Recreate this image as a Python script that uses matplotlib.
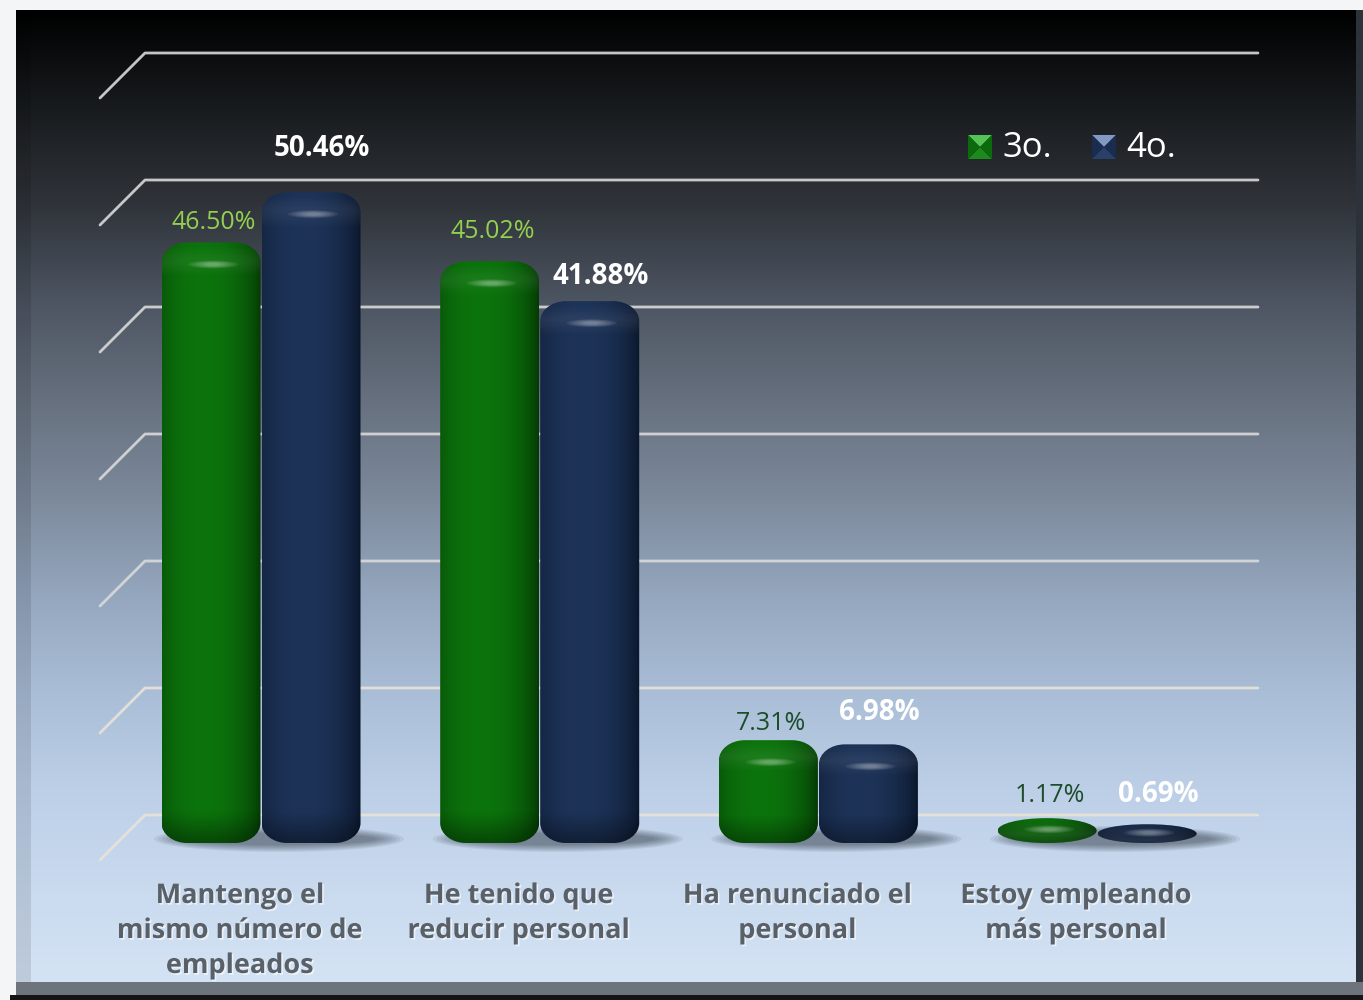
import numpy as np
import matplotlib.pyplot as plt
from matplotlib.path import Path
from matplotlib.patches import PathPatch, Ellipse, Polygon, Rectangle
from matplotlib.colors import to_rgb
from matplotlib.transforms import Affine2D
import matplotlib.patheffects as pe

categories = ['Mantengo el\nmismo número de\nempleados',
              'He tenido que\nreducir personal',
              'Ha renunciado el\npersonal',
              'Estoy empleando\nmás personal']
series_names = ['3o.', '4o.']
values_3o = [46.50, 45.02, 7.31, 1.17]
values_4o = [50.46, 41.88, 6.98, 0.69]
grid_ticks = [0, 10, 20, 30, 40, 50, 60]

# label layout (pixels above the bar top) and colours
gap_3o = [23, 33, 20, 26]
gap_4o = [47, 28, 35, 33]
color_lbl_3o = ['#92d050', '#92d050', '#1d4d2a', '#1d4d2a']

W, H = 1363, 1000
PX_X = 278.7   # pixels per category step
PX_Y = 12.7    # pixels per percentage point
X0 = 261       # pixel x of first category
Y0 = 836       # pixel y of the 0 % floor


def dx(p):
    return (p - X0) / PX_X


def dy(p):
    return (Y0 - p) / PX_Y


fig = plt.figure(figsize=(W / 100, H / 100), dpi=100)
fig.patch.set_facecolor('#f4f5f6')
ax = fig.add_axes([0, 0, 1, 1])
ax.set_xlim(dx(0), dx(W))
ax.set_ylim(dy(H), dy(0))
ax.axis('off')

# background panel with vertical gradient
stops = [(0, '#000000'), (100, '#181b1e'), (200, '#30343a'), (300, '#4d5562'),
         (400, '#66707e'), (500, '#7c899b'), (600, '#94a6bd'), (700, '#a9bdd6'),
         (800, '#bccfe7'), (900, '#c9daef'), (1000, '#d4e3f4')]
rows = np.linspace(0, 1000, 500)
sp = [s[0] for s in stops]
grad = np.zeros((500, 1, 3))
for c in range(3):
    grad[:, 0, c] = np.interp(rows, sp, [to_rgb(s[1])[c] for s in stops])
ax.imshow(grad, extent=[dx(16), dx(1360), dy(982), dy(10)], aspect='auto',
          interpolation='bilinear', zorder=0)
ax.add_patch(Rectangle((dx(16), dy(982)), dx(31) - dx(16), dy(10) - dy(982),
                       facecolor='black', alpha=0.10, lw=0, zorder=0.5))
ax.add_patch(Rectangle((dx(1356), dy(997)), dx(1363) - dx(1356), dy(10) - dy(997),
                       facecolor='#2c3239', lw=0, zorder=0.5))
ax.add_patch(Rectangle((dx(16), dy(995)), dx(1363) - dx(16), dy(982) - dy(995),
                       facecolor='#6e747b', lw=0, zorder=0.5))
ax.add_patch(Rectangle((dx(10), dy(1000)), dx(1363) - dx(10), dy(995) - dy(1000),
                       facecolor='#151515', lw=0, zorder=0.5))

# perspective gridlines (back wall)
depth = 45
for t in grid_ticks:
    yb = t + 21 / PX_Y
    yf = yb - depth / PX_Y
    col = '#d9d9d9' if t >= 20 else '#e9e3d6'
    ax.plot([dx(100), dx(145), dx(1258)], [yf, yb, yb], color=col, lw=2.0,
            alpha=0.9, solid_capstyle='round', zorder=1)


def rounded_rect(x0, x1, y0, y1, rx, ry):
    k = 0.5523
    verts = [(x0 + rx, y0), (x1 - rx, y0),
             (x1 - rx + k * rx, y0), (x1, y0 + ry - k * ry), (x1, y0 + ry),
             (x1, y1 - ry),
             (x1, y1 - ry + k * ry), (x1 - rx + k * rx, y1), (x1 - rx, y1),
             (x0 + rx, y1),
             (x0 + rx - k * rx, y1), (x0, y1 - ry + k * ry), (x0, y1 - ry),
             (x0, y0 + ry),
             (x0, y0 + ry - k * ry), (x0 + rx - k * rx, y0), (x0 + rx, y0),
             (x0 + rx, y0)]
    codes = ([Path.MOVETO, Path.LINETO] + [Path.CURVE4] * 3 + [Path.LINETO]
             + [Path.CURVE4] * 3 + [Path.LINETO] + [Path.CURVE4] * 3
             + [Path.LINETO] + [Path.CURVE4] * 3 + [Path.CLOSEPOLY])
    return Path(verts, codes)


def cylinder(xc, value, edge, center):
    w = 99 / PX_X
    x0, x1 = xc - w / 2, xc + w / 2
    y0 = -7 / PX_Y
    y1 = value + 3 / PX_Y
    h_px = (y1 - y0) * PX_Y
    rx_px = 26 if h_px > 60 else 49
    ry_px = min(20, h_px / 2)
    patch = PathPatch(rounded_rect(x0, x1, y0, y1, rx_px / PX_X, ry_px / PX_Y),
                      facecolor='none', edgecolor='none', zorder=3)
    ax.add_patch(patch)
    t = np.linspace(0, 1, 200)
    s = np.clip(1 - ((t - 0.42) / 0.58) ** 2, 0, 1) ** 0.7
    e, c = np.array(to_rgb(edge)), np.array(to_rgb(center))
    img = (e[None, :] + (c - e)[None, :] * s[:, None])[None, :, :]
    im = ax.imshow(img, extent=[x0, x1, y0, y1], aspect='auto',
                   interpolation='bilinear', zorder=3)
    im.set_clip_path(patch)
    # darker bottom, lighter dome at the top
    n = 100
    shade = np.zeros((n, 1, 4))
    yy = np.linspace(1, 0, n) * h_px  # px from bottom
    shade[:, 0, 3] = np.clip(1 - yy / 28, 0, 1) * 0.35
    im2 = ax.imshow(shade, extent=[x0, x1, y0, y1], aspect='auto',
                    interpolation='bilinear', zorder=3.1)
    im2.set_clip_path(patch)
    cap = np.ones((n, 1, 4))
    ytop = (h_px - yy)
    cap[:, 0, 3] = np.clip(1 - np.abs(ytop - 16) / 16, 0, 1) * 0.07
    im3 = ax.imshow(cap, extent=[x0, x1, y0, y1], aspect='auto',
                    interpolation='bilinear', zorder=3.2)
    im3.set_clip_path(patch)
    hl_y = y1 - min(22, h_px * 0.45) / PX_Y
    for k in range(6):
        ax.add_patch(Ellipse((xc + 2 / PX_X, hl_y), (50 - 7 * k) / PX_X,
                             (8 - 1 * k) / PX_Y, facecolor='white',
                             alpha=0.07, lw=0, zorder=3.3))


green_edge, green_mid = '#043604', '#0c740c'
navy_edge, navy_mid = '#0a1528', '#1d3358'

txt_font = ['Open Sans', 'DejaVu Sans']
for i in range(len(categories)):
    gx = i
    # soft shadow on the floor
    for k in range(8):
        ax.add_patch(Ellipse((gx + 18 / PX_X, -3 / PX_Y), (250 - 8 * k) / PX_X,
                             (26 - 2 * k) / PX_Y, facecolor='#1c2530',
                             alpha=0.07, lw=0, zorder=2))
    xg = gx - 50 / PX_X
    xn = gx + 50 / PX_X
    cylinder(xg, values_3o[i], green_edge, green_mid)
    cylinder(xn, values_4o[i], navy_edge, navy_mid)

    ax.text(xg + 3 / PX_X, values_3o[i] + gap_3o[i] / PX_Y, f'{values_3o[i]:.2f}%',
            ha='center', va='center', fontsize=18, color=color_lbl_3o[i],
            family=txt_font, zorder=5)
    ax.text(xn + 11 / PX_X, values_4o[i] + gap_4o[i] / PX_Y, f'{values_4o[i]:.2f}%',
            ha='center', va='center', fontsize=20, fontweight='bold',
            color='white', family=txt_font, zorder=5)

    ax.text(gx - 21 / PX_X, dy(883), categories[i], ha='center', va='top',
            fontsize=19.5, fontweight='bold', color='#5a6068', family=txt_font,
            linespacing=1.45, zorder=5,
            path_effects=[pe.withSimplePatchShadow(offset=(1.2, -1.2),
                                                   shadow_rgbFace='white', alpha=0.6)])

# legend
px = Affine2D().scale(1 / W, -1 / H).translate(0, 1) + fig.transFigure


def legend_marker(x, y, s, light, mid, dark):
    cx, cy = x + s / 2, y + s / 2
    ax.add_patch(Polygon([(x, y), (x + s, y), (cx, cy)], closed=True,
                         facecolor=light, lw=0, transform=px, zorder=6))
    ax.add_patch(Polygon([(x, y + s), (x + s, y + s), (cx, cy)], closed=True,
                         facecolor=mid, lw=0, transform=px, zorder=6))
    ax.add_patch(Polygon([(x, y), (x, y + s), (cx, cy)], closed=True,
                         facecolor=dark, lw=0, transform=px, zorder=6))
    ax.add_patch(Polygon([(x + s, y), (x + s, y + s), (cx, cy)], closed=True,
                         facecolor=dark, lw=0, transform=px, zorder=6))


legend_marker(968, 135, 24, '#55c255', '#1c8a1c', '#0b6a0b')
legend_marker(1092, 135, 24, '#8299c4', '#2a4068', '#1a2d50')
ax.text(1002, 148, series_names[0], transform=px, ha='left', va='center',
        fontsize=25, color='white', family=txt_font, zorder=6)
ax.text(1126, 148, series_names[1], transform=px, ha='left', va='center',
        fontsize=25, color='white', family=txt_font, zorder=6)

fig.savefig('out.png', dpi=100, facecolor=fig.get_facecolor())
